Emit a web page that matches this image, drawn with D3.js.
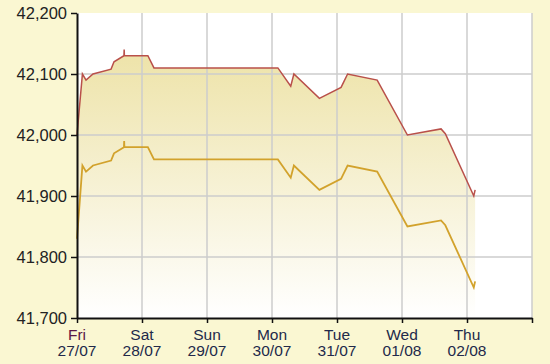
<!DOCTYPE html>
<html>
<head>
<meta charset="utf-8">
<script src="https://cdn.jsdelivr.net/npm/d3@7"></script>
<style>
  body { margin: 0; background: #faf7d2; }
  svg { display: block; }
  .ylab { font-family: "Liberation Sans", Arial, sans-serif; font-size: 16.5px; fill: #222; }
  .xlab { font-family: "Liberation Sans", Arial, sans-serif; font-size: 15.5px; fill: #22294a; }
</style>
</head>
<body>
<div id="chart"></div>
<script>
var svgWidth = 550;
var svgHeight = 364;

var margin = { top: 13, right: 18, bottom: 46, left: 77 };
var width = svgWidth - margin.left - margin.right;
var height = svgHeight - margin.top - margin.bottom;

// Data (sell = upper red, buy = lower gold)
var times = [
  "2018-07-27 00:00", "2018-07-27 02:00", "2018-07-27 03:20", "2018-07-27 05:55",
  "2018-07-27 12:35", "2018-07-27 13:40", "2018-07-27 17:20", "2018-07-27 17:25",
  "2018-07-27 17:30", "2018-07-28 02:10", "2018-07-28 04:25", "2018-07-30 02:10",
  "2018-07-30 06:55", "2018-07-30 08:05", "2018-07-30 17:30", "2018-07-31 01:30",
  "2018-07-31 02:35", "2018-07-31 03:55", "2018-07-31 14:50", "2018-08-01 02:00",
  "2018-08-01 14:25", "2018-08-01 16:00", "2018-08-02 02:30", "2018-08-02 03:00"
];
var sellValues = [
  42000, 42100, 42090, 42100, 42108, 42120, 42130, 42140,
  42130, 42130, 42110, 42110, 42080, 42100, 42060, 42078,
  42088, 42100, 42090, 42000, 42010, 42002, 41900, 41910
];
var buyValues = [
  41830, 41950, 41940, 41950, 41958, 41970, 41980, 41990,
  41980, 41980, 41960, 41960, 41930, 41950, 41910, 41928,
  41938, 41950, 41940, 41850, 41860, 41852, 41750, 41760
];
var dayNames = ["Fri", "Sat", "Sun", "Mon", "Tue", "Wed", "Thu"];
var dayDates = ["27/07", "28/07", "29/07", "30/07", "31/07", "01/08", "02/08"];
var yTicks = [41700, 41800, 41900, 42000, 42100, 42200];

var parseTime = d3.timeParse("%Y-%m-%d %H:%M");
var parseDay = d3.timeParse("%d/%m/%Y");

var data = times.map(function(t, i) {
  return { time: parseTime(t), sell: sellValues[i], buy: buyValues[i] };
});
var days = dayDates.map(function(d) { return parseDay(d + "/2018"); });

var svg = d3.select("#chart")
  .append("svg")
  .attr("width", svgWidth)
  .attr("height", svgHeight);

// gradient for the area under the sell line
var grad = svg.append("defs").append("linearGradient")
  .attr("id", "fillGrad")
  .attr("gradientUnits", "userSpaceOnUse")
  .attr("x1", 0).attr("y1", 0)
  .attr("x2", 0).attr("y2", height);
grad.append("stop").attr("offset", "0%").attr("stop-color", "#ebdf9c");
grad.append("stop").attr("offset", "100%").attr("stop-color", "#ffffff");

var chartGroup = svg.append("g")
  .attr("transform", `translate(${margin.left}, ${margin.top})`);

var xTimeScale = d3.scaleTime()
  .domain([days[0], d3.timeDay.offset(days[days.length - 1], 1)])
  .range([0, width]);

var yLinearScale = d3.scaleLinear()
  .domain([41700, 42200])
  .range([height, 0]);

// plot background
chartGroup.append("rect")
  .attr("width", width)
  .attr("height", height)
  .attr("fill", "#ffffff");

// area under sell line
var area = d3.area()
  .x(d => xTimeScale(d.time))
  .y0(height)
  .y1(d => yLinearScale(d.sell));

chartGroup.append("path")
  .datum(data)
  .attr("d", area)
  .attr("fill", "url(#fillGrad)");

// gridlines
var gridDays = days.slice(1).concat([xTimeScale.domain()[1]]);
chartGroup.append("g")
  .selectAll("line")
  .data(gridDays)
  .enter()
  .append("line")
  .attr("x1", d => xTimeScale(d))
  .attr("x2", d => xTimeScale(d))
  .attr("y1", 0)
  .attr("y2", height)
  .attr("stroke", "#cccccc")
  .attr("stroke-width", 1.5);

chartGroup.append("g")
  .selectAll("line")
  .data(yTicks.slice(1, -1))
  .enter()
  .append("line")
  .attr("x1", 0)
  .attr("x2", width)
  .attr("y1", d => yLinearScale(d))
  .attr("y2", d => yLinearScale(d))
  .attr("stroke", "#cccccc")
  .attr("stroke-width", 1.5);

// lines
var sellLine = d3.line()
  .x(d => xTimeScale(d.time))
  .y(d => yLinearScale(d.sell));
var buyLine = d3.line()
  .x(d => xTimeScale(d.time))
  .y(d => yLinearScale(d.buy));

chartGroup.append("path")
  .datum(data)
  .attr("d", sellLine)
  .attr("fill", "none")
  .attr("stroke", "#b9504a")
  .attr("stroke-width", 1.5);

chartGroup.append("path")
  .datum(data)
  .attr("d", buyLine)
  .attr("fill", "none")
  .attr("stroke", "#d2a22c")
  .attr("stroke-width", 1.8);

// axes
var leftAxis = d3.axisLeft(yLinearScale)
  .tickValues(yTicks)
  .tickFormat(d3.format(","))
  .tickSizeInner(6)
  .tickSizeOuter(0)
  .tickPadding(4);

var bottomAxis = d3.axisBottom(xTimeScale)
  .tickValues(days.concat([xTimeScale.domain()[1]]))
  .tickFormat("")
  .tickSizeInner(5)
  .tickSizeOuter(0);

var yAxisG = chartGroup.append("g").call(leftAxis);
var xAxisG = chartGroup.append("g")
  .attr("transform", `translate(0, ${height})`)
  .call(bottomAxis);

[yAxisG, xAxisG].forEach(function(g) {
  g.select(".domain").attr("stroke", "#111").attr("stroke-width", 2);
  g.selectAll(".tick line").attr("stroke", "#111").attr("stroke-width", 1.5);
});

yAxisG.selectAll(".tick text")
  .attr("class", "ylab")
  .attr("font-family", null)
  .attr("font-size", null)
  .attr("fill", null)
  .attr("dy", "0.36em");

// two-line day labels
var xLabels = chartGroup.append("g")
  .attr("class", "xlab")
  .attr("text-anchor", "middle");

xLabels.selectAll("text.day")
  .data(days)
  .enter()
  .append("text")
  .attr("class", "day")
  .attr("x", d => xTimeScale(d))
  .attr("y", height + 22)
  .attr("fill", (d, i) => i === 0 ? "#5a1646" : "#22294a")
  .text((d, i) => dayNames[i]);

xLabels.selectAll("text.date")
  .data(days)
  .enter()
  .append("text")
  .attr("class", "date")
  .attr("x", d => xTimeScale(d))
  .attr("y", height + 38)
  .text((d, i) => dayDates[i]);
</script>
</body>
</html>
